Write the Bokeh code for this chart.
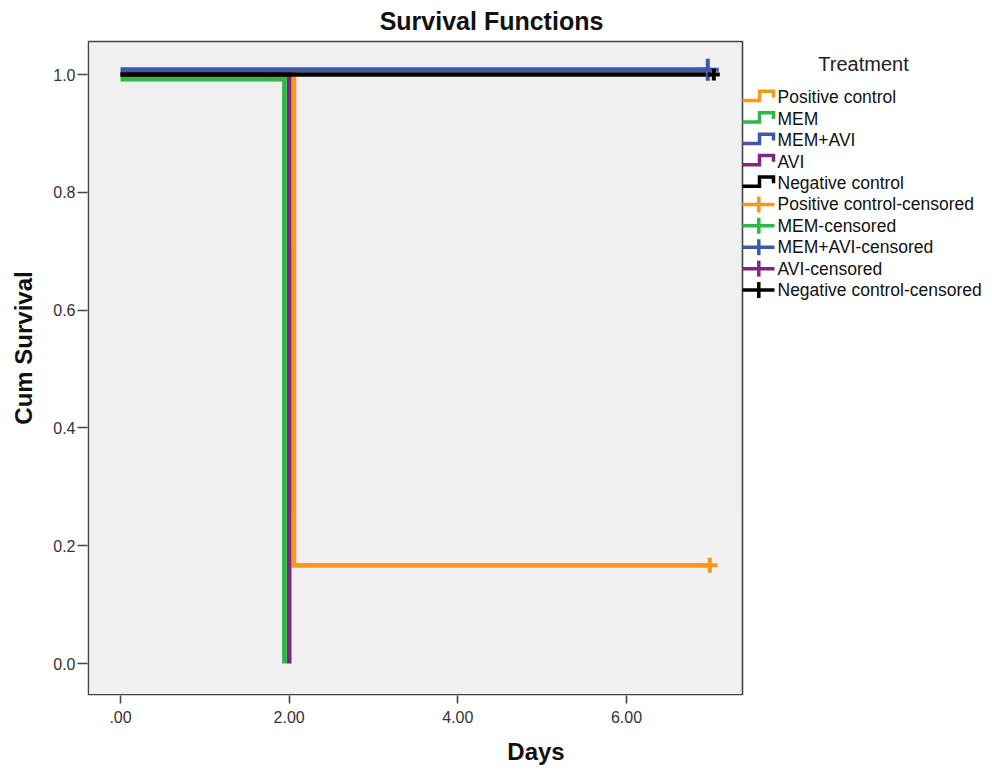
from bokeh.plotting import figure
from bokeh.models import Range1d, FixedTicker
from bokeh.embed import file_html
from bokeh.resources import INLINE
from bokeh.core.properties import value

# ---------------- data ----------------
title_text = "Survival Functions"
x_label = "Days"
y_label = "Cum Survival"
legend_title = "Treatment"

groups = ["Positive control", "MEM", "MEM+AVI", "AVI", "Negative control"]
colors = ["#F8981D", "#2EB848", "#3E58AC", "#7C287D", "#000000"]

# Kaplan-Meier steps: days and cumulative survival from that day on
pos_times = [0, 2, 7]
pos_surv = [1.0, 0.1667, 0.1667]
mem_times = [0, 2]
mem_surv = [1.0, 0.0]
memavi_times = [0, 7]
memavi_surv = [1.0, 1.0]
avi_times = [0, 2]
avi_surv = [1.0, 0.0]
neg_times = [0, 7]
neg_surv = [1.0, 1.0]

# censored observations
pos_cens_day = [7]
pos_cens_surv = [0.1667]
memavi_cens_day = [7]
memavi_cens_surv = [1.0]
neg_cens_day = [7]
neg_cens_surv = [1.0]

x_ticks = [0, 2, 4, 6]
x_tick_labels = [".00", "2.00", "4.00", "6.00"]
y_ticks = [0.0, 0.2, 0.4, 0.6, 0.8, 1.0]
y_tick_labels = ["0.0", "0.2", "0.4", "0.6", "0.8", "1.0"]

# ---------------- layout / style ----------------
FONT = "Liberation Sans"
W, H = 984, 766
ML, MB = 87, 71                 # left / bottom borders (axes)
FRAME_W, FRAME_H = W - ML, H - MB
PX_X = 84.33                    # pixels per day
PX_Y = 589.0                    # pixels per unit survival
X0 = -33.0 / PX_X               # frame left edge, in days
Y0 = -32.0 / PX_Y               # frame bottom edge
X1 = X0 + FRAME_W / PX_X
Y1 = Y0 + FRAME_H / PX_Y
BOX_RIGHT_PX = 655              # plot box width, from frame left
BOX_TOP_PX = 654                # plot box height, from frame bottom
LW = 4.7
FRAME_COLOR = "#444444"


def px_x(px):  # pixel distance from frame left -> data x
    return X0 + px / PX_X


def px_y(py):  # pixel distance from frame top -> data y
    return Y1 - py / PX_Y


p = figure(frame_width=FRAME_W, frame_height=FRAME_H,
           min_border_left=ML, min_border_right=0,
           min_border_top=0, min_border_bottom=MB,
           x_range=Range1d(X0, X1), y_range=Range1d(Y0, Y1),
           output_backend="svg", toolbar_location=None)
p.background_fill_color = "white"
p.border_fill_color = "white"
p.outline_line_color = None
p.xgrid.visible = False
p.ygrid.visible = False

# plot box (grey area with dark frame)
p.quad(left=[px_x(0.8)], right=[px_x(BOX_RIGHT_PX)],
       bottom=[Y0 + 0.8 / PX_Y], top=[Y0 + BOX_TOP_PX / PX_Y],
       fill_color="#F0F0F0", line_color=FRAME_COLOR, line_width=1.6)

for ax in (p.xaxis[0], p.yaxis[0]):
    ax.axis_line_color = None
    ax.major_tick_line_color = FRAME_COLOR
    ax.major_tick_line_width = 1.6
    ax.major_tick_in = 0
    ax.minor_tick_line_color = None
    ax.major_label_text_font = FONT
    ax.major_label_text_font_size = "16px"
    ax.major_label_text_color = "#333333"
    ax.axis_label_text_font = FONT
    ax.axis_label_text_font_size = "24px"
    ax.axis_label_text_font_style = "bold"
    ax.axis_label_text_color = "#111111"

p.xaxis.ticker = FixedTicker(ticks=x_ticks)
p.xaxis.major_label_overrides = {t: l for t, l in zip(x_ticks, x_tick_labels)}
p.xaxis.major_tick_out = 8
p.xaxis.major_label_standoff = 7
p.xaxis.axis_label = x_label
p.xaxis.axis_label_standoff = 12

p.yaxis.ticker = FixedTicker(ticks=y_ticks)
p.yaxis.major_label_overrides = {t: l for t, l in zip(y_ticks, y_tick_labels)}
p.yaxis.major_tick_out = 10
p.yaxis.major_label_standoff = 2
p.yaxis.axis_label = y_label
p.yaxis.axis_label_standoff = 13

# rendering offsets (pixels) so overlapping curves stay visible
step_dx = [4.8, -4.7, 0.0, 0.0, 0.0]
plateau_dy = [0.0, 4.6, -4.8, 0.0, 0.0]


def step_path(times, surv, dx_px, dy_px):
    def yy(s):
        return s - dy_px / PX_Y if s == 1.0 else s
    xs = [times[0]]
    ys = [yy(surv[0])]
    for i in range(1, len(times)):
        if surv[i] != surv[i - 1]:
            xv = times[i] + dx_px / PX_X
            xs += [xv, xv]
            ys += [yy(surv[i - 1]), yy(surv[i])]
        else:
            xs.append(times[i])
            ys.append(yy(surv[i]))
    return xs, ys


series = {
    0: (pos_times, pos_surv),
    1: (mem_times, mem_surv),
    2: (memavi_times, memavi_surv),
    3: (avi_times, avi_surv),
    4: (neg_times, neg_surv),
}
draw_order = [0, 3, 1, 4, 2]
for k in draw_order:
    t, s = series[k]
    xs, ys = step_path(t, s, step_dx[k], plateau_dy[k])
    p.line(xs, ys, line_color=colors[k], line_width=LW,
           line_join="miter", line_cap="butt")

cens = [
    (0, pos_cens_day, pos_cens_surv, -1.0, 15),
    (2, memavi_cens_day, memavi_cens_surv, -3.0, 22),
    (4, neg_cens_day, neg_cens_surv, 3.0, 12),
]
for k, d, sv, dxp, size in cens:
    xs = [v + dxp / PX_X for v in d]
    ys = [v - plateau_dy[k] / PX_Y if v == 1.0 else v for v in sv]
    p.scatter(xs, ys, marker="cross", size=size, line_color=colors[k],
              line_width=4)

# chart title
p.text(x=[px_x(404)], y=[px_y(20)], text=[title_text], text_align="center",
       text_baseline="middle", text_font=value(FONT), text_font_size="25px",
       text_font_style="bold", text_color="#111111")

# ---------------- legend (right of the plot box) ----------------
p.text(x=[px_x(776)], y=[px_y(63)], text=[legend_title], text_align="center",
       text_baseline="middle", text_font=value(FONT),
       text_font_size="20px", text_color="#222222")

ROW0, ROW_GAP = 96.8, 21.42     # pixels from frame top
IX0, IX_STEP, IX1, IX_TXT = 655, 672, 686, 690   # pixels from frame left
labels = groups + [g + "-censored" for g in groups]
for i, lab in enumerate(labels):
    cy = ROW0 + i * ROW_GAP
    c = colors[i % 5]
    if i < 5:
        p.line([px_x(v) for v in (IX0, IX_STEP, IX_STEP, IX1, IX1)],
               [px_y(v) for v in (cy + 3.3, cy + 3.3, cy - 6, cy - 6, cy + 0.3)],
               line_color=c, line_width=3.5, line_join="miter")
    else:
        p.line([px_x(IX0), px_x(IX0 + 32)], [px_y(cy), px_y(cy)],
               line_color=c, line_width=3.5)
        p.line([px_x(IX0 + 16.3)] * 2, [px_y(cy - 8), px_y(cy + 8)],
               line_color=c, line_width=3.5)
    p.text(x=[px_x(IX_TXT)], y=[px_y(cy)], text=[lab], text_align="left",
           text_baseline="middle", text_font=value(FONT),
           text_font_size="17.5px", text_color="#111111")

open("out.html", "w").write(file_html(p, INLINE))
